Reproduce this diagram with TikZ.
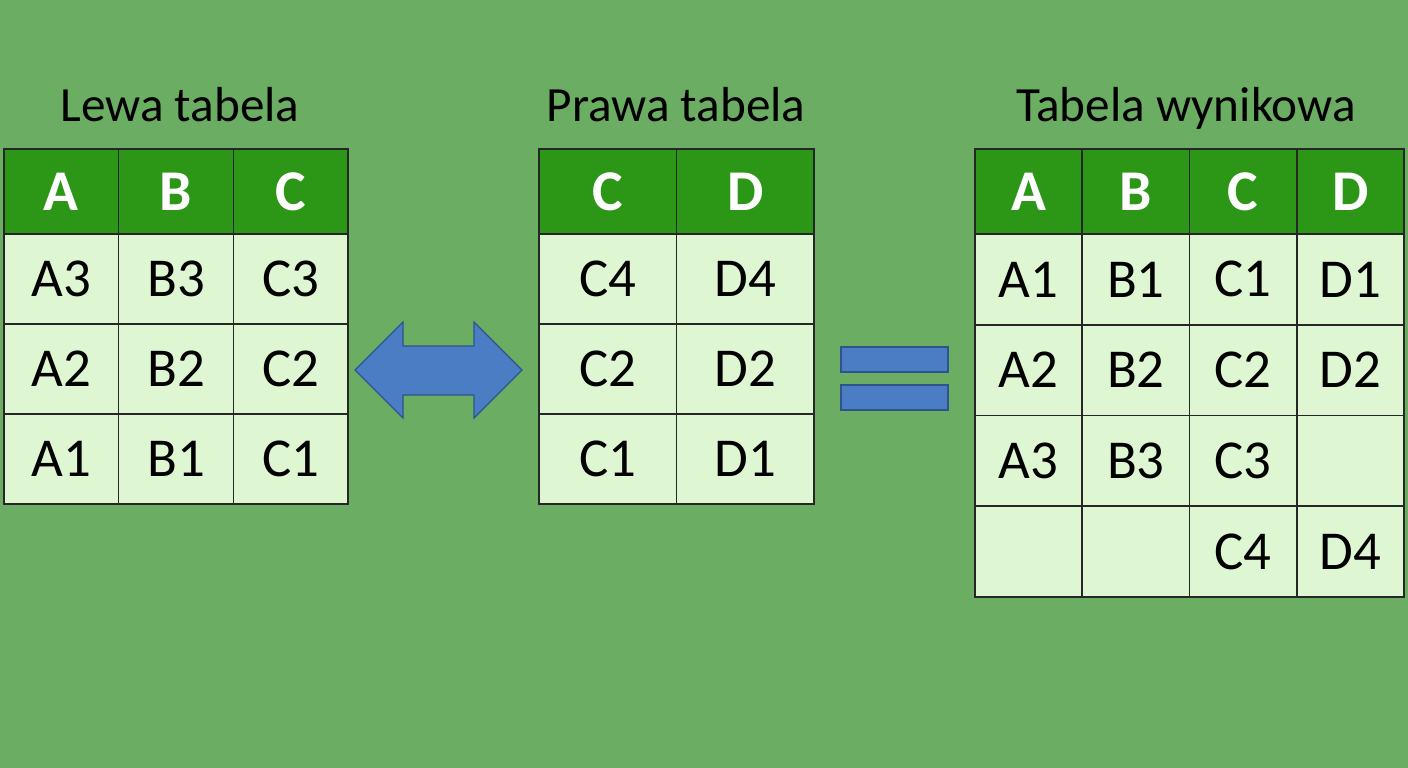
\documentclass[tikz,border=0pt]{standalone}
\usepackage{fontspec}
\setmainfont{Carlito}
\definecolor{bggreen}{RGB}{107,173,98}
\definecolor{headgreen}{RGB}{44,150,22}
\definecolor{cellgreen}{RGB}{223,246,211}
\definecolor{arrowblue}{RGB}{74,125,196}
\definecolor{arrowedge}{RGB}{46,84,140}
\usetikzlibrary{positioning, calc}

\tikzset{
  title/.style={font=\fontsize{35}{42}\selectfont, text=black, inner sep=0pt, anchor=base},
  headcell/.style={draw=black!85, line width=1.1pt, fill=headgreen, text=white,
    font=\fontsize{41}{48}\selectfont\bfseries, inner sep=0pt, outer sep=0pt,
    anchor=north west, minimum height=2.125cm},
  datacell/.style={draw=black!85, line width=1.1pt, fill=cellgreen, text=black,
    font=\fontsize{39}{46}\selectfont, inner sep=0pt, outer sep=0pt,
    anchor=north west, minimum height=2.25cm},
  signshape/.style={fill=arrowblue, draw=arrowedge, line width=0.8pt}
}

\begin{document}
\begin{tikzpicture}[x=0.025cm, y=-0.025cm]
  \fill[bggreen] (0,0) rectangle (1408,768);
  \useasboundingbox (0,0) rectangle (1408,768);

  % Titles
  \node[title] (lefttitle) at (180, 122) {Lewa tabela};
  \node[title] (righttitle) at (676, 122) {Prawa tabela};
  \node[title] (restitle) at (1186, 122) {Tabela wynikowa};

  % Left table
  \foreach \txt [count=\c] in {A,B,C}
    \node[headcell, minimum width=2.8675cm] (L-h\c) at ({4+(\c-1)*114.7}, 149) {\txt};
  \foreach \row [count=\r] in {{A3,B3,C3},{A2,B2,C2},{A1,B1,C1}}
    \foreach \txt [count=\c] in \row
      \node[datacell, minimum width=2.8675cm] (L-\r-\c) at ({4+(\c-1)*114.7}, {234+(\r-1)*90}) {\txt};

  % Right table
  \foreach \txt [count=\c] in {C,D}
    \node[headcell, minimum width=3.4375cm] (P-h\c) at ({539+(\c-1)*137.5}, 149) {\txt};
  \foreach \row [count=\r] in {{C4,D4},{C2,D2},{C1,D1}}
    \foreach \txt [count=\c] in \row
      \node[datacell, minimum width=3.4375cm] (P-\r-\c) at ({539+(\c-1)*137.5}, {234+(\r-1)*90}) {\txt};

  % Result table
  \foreach \txt [count=\c] in {A,B,C,D}
    \node[headcell, minimum width=2.68cm] (W-h\c) at ({975+(\c-1)*107.25}, 149) {\txt};
  \foreach \row [count=\r] in {{A1,B1,C1,D1},{A2,B2,C2,D2},{A3,B3,C3,{}},{{},{},C4,D4}}
    \foreach \txt [count=\c] in \row
      \node[datacell, minimum width=2.68cm, minimum height=2.26875cm] (W-\r-\c) at ({975+(\c-1)*107.25}, {234+(\r-1)*90.75}) {\txt};

  % Join arrow
  \draw[signshape] (355,370) -- (403,322) -- (403,346) -- (474,346) -- (474,322)
    -- (522,370) -- (474,418) -- (474,395) -- (403,395) -- (403,418) -- cycle;

  % Equals sign
  \draw[signshape] (841,347) rectangle (948,372);
  \draw[signshape] (841,385) rectangle (948,410);
\end{tikzpicture}
\end{document}
